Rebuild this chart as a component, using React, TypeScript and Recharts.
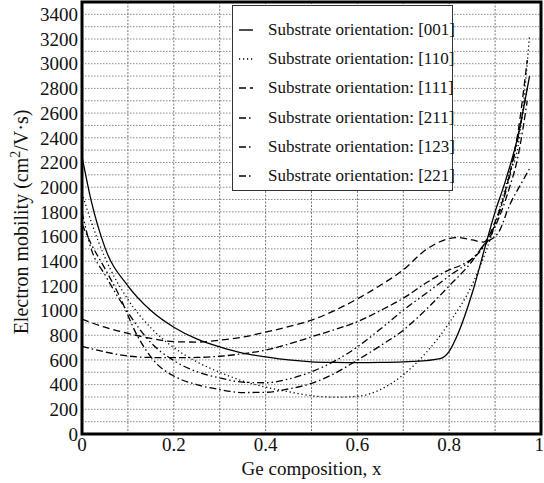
import {
  CartesianGrid,
  Label,
  Legend,
  Line,
  LineChart,
  ReferenceArea,
  XAxis,
  YAxis,
} from 'recharts'

const FONT = 'Liberation Serif, Tinos, Times New Roman, Times, DejaVu Serif, serif'

// Ge composition (x) and electron mobility (cm2/V·s) per substrate orientation
const xs001 = [0, 0.02, 0.05, 0.1, 0.15, 0.2, 0.25, 0.3, 0.35, 0.4, 0.45, 0.5, 0.55, 0.6, 0.65, 0.7, 0.75, 0.78, 0.8, 0.82, 0.85, 0.88, 0.9, 0.92, 0.95, 0.975]
const mu001 = [2250, 1890, 1510, 1200, 1000, 865, 770, 705, 655, 625, 600, 585, 580, 578, 580, 585, 595, 610, 670, 820, 1140, 1540, 1800, 2020, 2420, 2900]

const xs110 = [0, 0.02, 0.05, 0.1, 0.15, 0.2, 0.25, 0.3, 0.35, 0.4, 0.45, 0.5, 0.55, 0.6, 0.65, 0.7, 0.75, 0.8, 0.85, 0.88, 0.9, 0.93, 0.95, 0.965, 0.975]
const mu110 = [1950, 1720, 1430, 1090, 860, 700, 585, 500, 430, 380, 342, 310, 298, 305, 360, 480, 660, 900, 1210, 1480, 1700, 2100, 2330, 2800, 3230]

const xs111 = [0, 0.05, 0.1, 0.15, 0.2, 0.25, 0.3, 0.35, 0.4, 0.45, 0.5, 0.55, 0.6, 0.65, 0.7, 0.75, 0.8, 0.82, 0.85, 0.875, 0.9, 0.93, 0.95, 0.97]
const mu111 = [930, 865, 815, 775, 748, 745, 760, 785, 825, 870, 922, 1000, 1095, 1205, 1330, 1495, 1583, 1592, 1572, 1555, 1720, 2080, 2450, 3030]

const xs211 = [0, 0.02, 0.05, 0.08, 0.12, 0.16, 0.2, 0.25, 0.3, 0.35, 0.4, 0.45, 0.5, 0.55, 0.6, 0.65, 0.7, 0.75, 0.8, 0.85, 0.875, 0.91, 0.93, 0.96, 0.975]
const mu211 = [1700, 1540, 1340, 1130, 800, 580, 470, 400, 360, 336, 338, 365, 410, 490, 599, 715, 841, 1010, 1200, 1400, 1530, 1650, 1840, 2050, 2150]

const xs123 = [0, 0.02, 0.05, 0.1, 0.15, 0.2, 0.25, 0.3, 0.35, 0.4, 0.45, 0.5, 0.55, 0.6, 0.65, 0.7, 0.75, 0.8, 0.85, 0.875, 0.9, 0.93, 0.95, 0.97]
const mu123 = [1800, 1500, 1290, 985, 740, 595, 505, 455, 420, 415, 445, 504, 590, 706, 850, 1003, 1140, 1280, 1420, 1530, 1700, 2060, 2400, 2800]

const xs221 = [0, 0.05, 0.1, 0.15, 0.2, 0.25, 0.3, 0.35, 0.4, 0.45, 0.5, 0.55, 0.6, 0.65, 0.7, 0.75, 0.8, 0.83, 0.86, 0.88, 0.9, 0.93, 0.95, 0.97]
const mu221 = [710, 665, 632, 620, 618, 620, 630, 650, 680, 728, 787, 845, 910, 1000, 1100, 1225, 1330, 1375, 1450, 1540, 1680, 1980, 2250, 2700]

const xTicks = [0, 0.1, 0.2, 0.3, 0.4, 0.5, 0.6, 0.7, 0.8, 0.9, 1]
const xLabels = ['0', '', '0.2', '', '0.4', '', '0.6', '', '0.8', '', '1']
const yTicks = [0, 100, 200, 300, 400, 500, 600, 700, 800, 900, 1000, 1100, 1200, 1300, 1400, 1500, 1600, 1700, 1800, 1900, 2000, 2100, 2200, 2300, 2400, 2500, 2600, 2700, 2800, 2900, 3000, 3100, 3200, 3300, 3400, 3500]
const yLabels = ['0', '200', '400', '600', '800', '1000', '1200', '1400', '1600', '1800', '2000', '2200', '2400', '2600', '2800', '3000', '3200', '3400']

const toPoints = (xs: number[], ys: number[]) => xs.map((x, i) => ({ x, y: ys[i] }))

const series = [
  { name: 'Substrate orientation: [001]', data: toPoints(xs001, mu001), dash: undefined },
  { name: 'Substrate orientation: [110]', data: toPoints(xs110, mu110), dash: '1.2 2.8' },
  { name: 'Substrate orientation: [111]', data: toPoints(xs111, mu111), dash: '7 4' },
  { name: 'Substrate orientation: [211]', data: toPoints(xs211, mu211), dash: '7 3 1.5 3' },
  { name: 'Substrate orientation: [123]', data: toPoints(xs123, mu123), dash: '7 3 1.5 3 1.5 3' },
  { name: 'Substrate orientation: [221]', data: toPoints(xs221, mu221), dash: '7 3 1.5 3 7 3' },
]

function LegendBox() {
  return (
    <div
      style={{
        border: '1px solid #333',
        background: '#fff',
        fontFamily: FONT,
        fontSize: 17,
        color: '#111',
        padding: '9px 0 0 6px',
        boxSizing: 'border-box',
        width: 221,
        height: 186,
        whiteSpace: 'nowrap',
      }}
    >
      {series.map((s) => (
        <div key={s.name} style={{ display: 'flex', alignItems: 'center', height: 29.3 }}>
          <svg width={22} height={10} style={{ marginRight: 7, flex: 'none' }}>
            <line x1={0} y1={5} x2={14} y2={5} stroke="#000" strokeWidth={1.4} strokeDasharray={s.dash} />
          </svg>
          <span>{s.name}</span>
        </div>
      ))}
    </div>
  )
}

function YTitle() {
  return (
    <text
      x={28}
      y={222}
      transform="rotate(-90, 28, 222)"
      textAnchor="middle"
      fontFamily={FONT}
      fontSize={20}
      fill="#111"
    >
      Electron mobility (cm
      <tspan dy={-8} fontSize={14}>2</tspan>
      <tspan dy={8}>/V·s)</tspan>
    </text>
  )
}

export default function App() {
  return (
    <div style={{ position: 'absolute', left: 0, top: 0, width: 544, height: 483, background: '#fff', fontFamily: FONT }}>
      <LineChart width={544} height={483} margin={{ top: 2, right: 3, bottom: 0, left: 0 }}>
        <CartesianGrid horizontal={false} stroke="#777" strokeDasharray="2 1.5" />
        <CartesianGrid vertical={false} stroke="#888" strokeDasharray="1.5 1.5" />
        <XAxis
          dataKey="x"
          type="number"
          domain={[0, 1]}
          ticks={xTicks}
          tickFormatter={(v: number) => xLabels[xTicks.indexOf(v)] ?? ''}
          tick={{ fill: '#111', fontSize: 19, fontFamily: FONT }}
          tickLine={false}
          tickSize={0}
          tickMargin={4}
          axisLine={false}
          height={49}
          allowDuplicatedCategory={false}
        >
          <Label
            content={() => (
              <text x={311.5} y={475} textAnchor="middle" fontFamily={FONT} fontSize={19} fill="#111">
                Ge composition, x
              </text>
            )}
          />
        </XAxis>
        <YAxis
          type="number"
          domain={[0, 3500]}
          ticks={yTicks}
          tickFormatter={(v: number) => (yLabels.includes(String(v)) ? String(v) : '')}
          tick={{ fill: '#111', fontSize: 19, fontFamily: FONT }}
          tickLine={false}
          tickSize={0}
          tickMargin={4}
          axisLine={false}
          width={82}
          interval={0}
        >
          <Label content={() => <YTitle />} />
        </YAxis>
        <ReferenceArea
          x1={0}
          x2={1}
          y1={0}
          y2={3500}
          fill="none"
          stroke="#000"
          strokeWidth={3}
          ifOverflow="visible"
        />
        {series.map((s) => (
          <Line
            key={s.name}
            data={s.data}
            dataKey="y"
            name={s.name}
            type="monotone"
            stroke="#000"
            strokeWidth={1.3}
            strokeDasharray={s.dash}
            dot={false}
            activeDot={false}
            isAnimationActive={false}
          />
        ))}
        <Legend
          layout="vertical"
          align="center"
          verticalAlign="middle"
          wrapperStyle={{ left: 232, top: 5, width: 221, height: 186 }}
          content={() => <LegendBox />}
        />
      </LineChart>
    </div>
  )
}
